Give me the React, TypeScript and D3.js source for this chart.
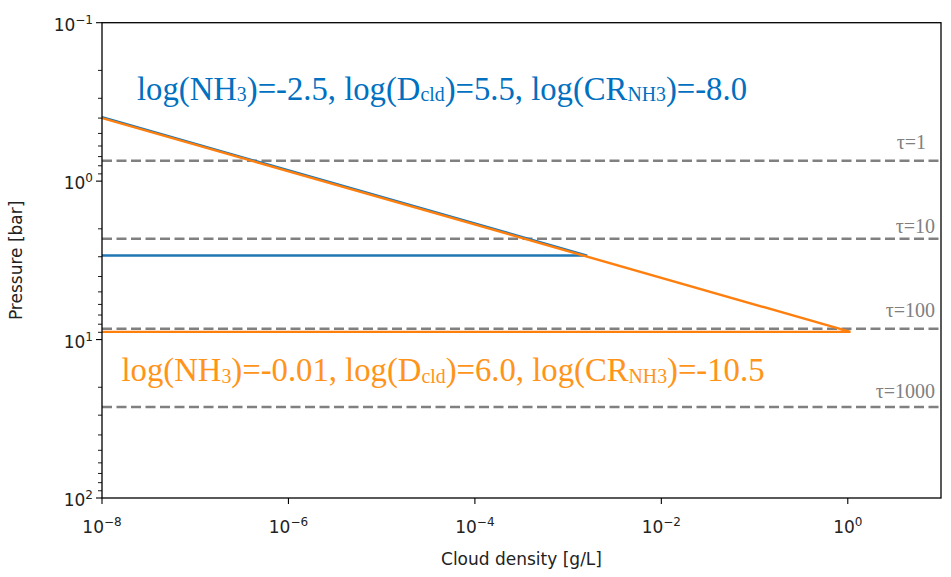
import React from 'react';
import * as d3 from 'd3';

// Axis decades (exponents of 10) that carry labelled ticks
const xDecades = [-8, -6, -4, -2, 0];
const yDecades = [-1, 0, 1, 2];

// Cloud density profiles [g/L] vs pressure [bar]
const blueDensity = [1e-8, 1.6e-3, 1e-8];
const bluePressure = [0.395, 2.95, 2.95];
const orangeDensity = [1e-8, 1.07, 1e-8];
const orangePressure = [0.4, 8.94, 8.94];

// Optical depth levels
const tauPressure = [0.743, 2.31, 8.56, 26.6];
const tauLabels = ['τ=1', 'τ=10', 'τ=100', 'τ=1000'];
const tauLabelLift = [12, 6, 12, 9];
const tauLabelRight = [926, 935, 935, 935];

// Model parameter labels: [main text, subscript] pieces
const bluePieces: [string, string][] = [
  ['log(NH', '3'],
  [')=-2.5, log(D', 'cld'],
  [')=5.5, log(CR', 'NH3'],
  [')=-8.0', ''],
];
const orangePieces: [string, string][] = [
  ['log(NH', '3'],
  [')=-0.01, log(D', 'cld'],
  [')=6.0, log(CR', 'NH3'],
  [')=-10.5', ''],
];

const W = 951;
const H = 577;
const left = 102;
const right = 941;
const top = 22.7;
const bottom = 498;

const sansFont = "'DejaVu Sans', sans-serif";
const serifFont = "'Liberation Serif', 'Times New Roman', serif";

const minus = '\u2212';

function Pow({ exp }: { exp: number }) {
  const s = exp < 0 ? minus + Math.abs(exp) : String(exp);
  return (
    <>
      <tspan>10</tspan>
      <tspan fontSize={12} dy={-7}>{s}</tspan>
    </>
  );
}

function ParamLabel({
  pieces,
  x,
  y,
  width,
  color,
}: {
  pieces: [string, string][];
  x: number;
  y: number;
  width: number;
  color: string;
}) {
  return (
    <text
      x={x}
      y={y}
      fontFamily={serifFont}
      fontSize={33}
      fill={color}
      textLength={width}
      lengthAdjust="spacingAndGlyphs"
    >
      {pieces.map(([main, sub], i) => (
        <React.Fragment key={i}>
          <tspan y={y}>{main}</tspan>
          {sub && (
            <tspan y={y + 1.5} fontSize={20}>
              {sub}
            </tspan>
          )}
        </React.Fragment>
      ))}
    </text>
  );
}

export default function App() {
  const x = d3.scaleLog().domain([1e-8, 1e1]).range([left, right]);
  const y = d3.scaleLog().domain([1e-1, 1e2]).range([top, bottom]);

  const line = d3
    .line<[number, number]>()
    .x((d) => x(d[0]))
    .y((d) => y(d[1]));

  const blue: [number, number][] = blueDensity.map((d, i) => [d, bluePressure[i]]);
  const orange: [number, number][] = orangeDensity.map((d, i) => [d, orangePressure[i]]);

  const yMinor: number[] = [];
  for (let e = -1; e < 2; e++) {
    for (let m = 2; m <= 9; m++) yMinor.push(m * Math.pow(10, e));
  }

  return (
    <svg
      width={W}
      height={H}
      style={{ position: 'absolute', left: 0, top: 0, background: '#fff' }}
    >
      <defs>
        <clipPath id="plotArea">
          <rect x={left} y={top} width={right - left} height={bottom - top} />
        </clipPath>
      </defs>

      {/* optical depth levels */}
      <g clipPath="url(#plotArea)">
        {tauPressure.map((p, i) => (
          <line
            key={i}
            x1={left}
            x2={right}
            y1={y(p)}
            y2={y(p)}
            stroke="#808080"
            strokeWidth={2.5}
            strokeDasharray="10,4.5"
          />
        ))}
        <path d={line(blue) ?? ''} fill="none" stroke="#1f77b4" strokeWidth={2.4} />
        <path d={line(orange) ?? ''} fill="none" stroke="#ff7f0e" strokeWidth={2.4} />
      </g>

      {tauLabels.map((t, i) => (
        <text
          key={t}
          x={tauLabelRight[i]}
          y={y(tauPressure[i]) - tauLabelLift[i]}
          textAnchor="end"
          fontFamily={serifFont}
          fontSize={20}
          fill="#808080"
        >
          {t}
        </text>
      ))}

      {/* frame */}
      <rect
        x={left}
        y={top}
        width={right - left}
        height={bottom - top}
        fill="none"
        stroke="#000"
        strokeWidth={1.3}
      />

      {/* x axis */}
      {xDecades.map((e) => (
        <g key={e}>
          <line x1={x(10 ** e)} x2={x(10 ** e)} y1={bottom} y2={bottom + 6} stroke="#000" strokeWidth={1.1} />
          <text
            x={x(10 ** e)}
            y={533}
            textAnchor="middle"
            fontFamily={sansFont}
            fontSize={17}
            fill="#222"
          >
            <Pow exp={e} />
          </text>
        </g>
      ))}
      <text x={(left + right) / 2} y={565} textAnchor="middle" fontFamily={sansFont} fontSize={17} fill="#222">
        Cloud density [g/L]
      </text>

      {/* y axis */}
      {yMinor.map((v, i) => (
        <line key={i} x1={left - 4} x2={left} y1={y(v)} y2={y(v)} stroke="#000" strokeWidth={0.9} />
      ))}
      {yDecades.map((e) => (
        <g key={e}>
          <line x1={left - 6} x2={left} y1={y(10 ** e)} y2={y(10 ** e)} stroke="#000" strokeWidth={1.1} />
          <text
            x={left - 9}
            y={y(10 ** e) + 8}
            textAnchor="end"
            fontFamily={sansFont}
            fontSize={17}
            fill="#222"
          >
            <Pow exp={e} />
          </text>
        </g>
      ))}
      <text
        transform={`translate(22,${(top + bottom) / 2}) rotate(-90)`}
        textAnchor="middle"
        fontFamily={sansFont}
        fontSize={17}
        fill="#222"
      >
        Pressure [bar]
      </text>

      {/* model annotations */}
      <ParamLabel pieces={bluePieces} x={137} y={99.5} width={610} color="#0070C0" />
      <ParamLabel pieces={orangePieces} x={121.5} y={381} width={643} color="#FF9419" />
    </svg>
  );
}
